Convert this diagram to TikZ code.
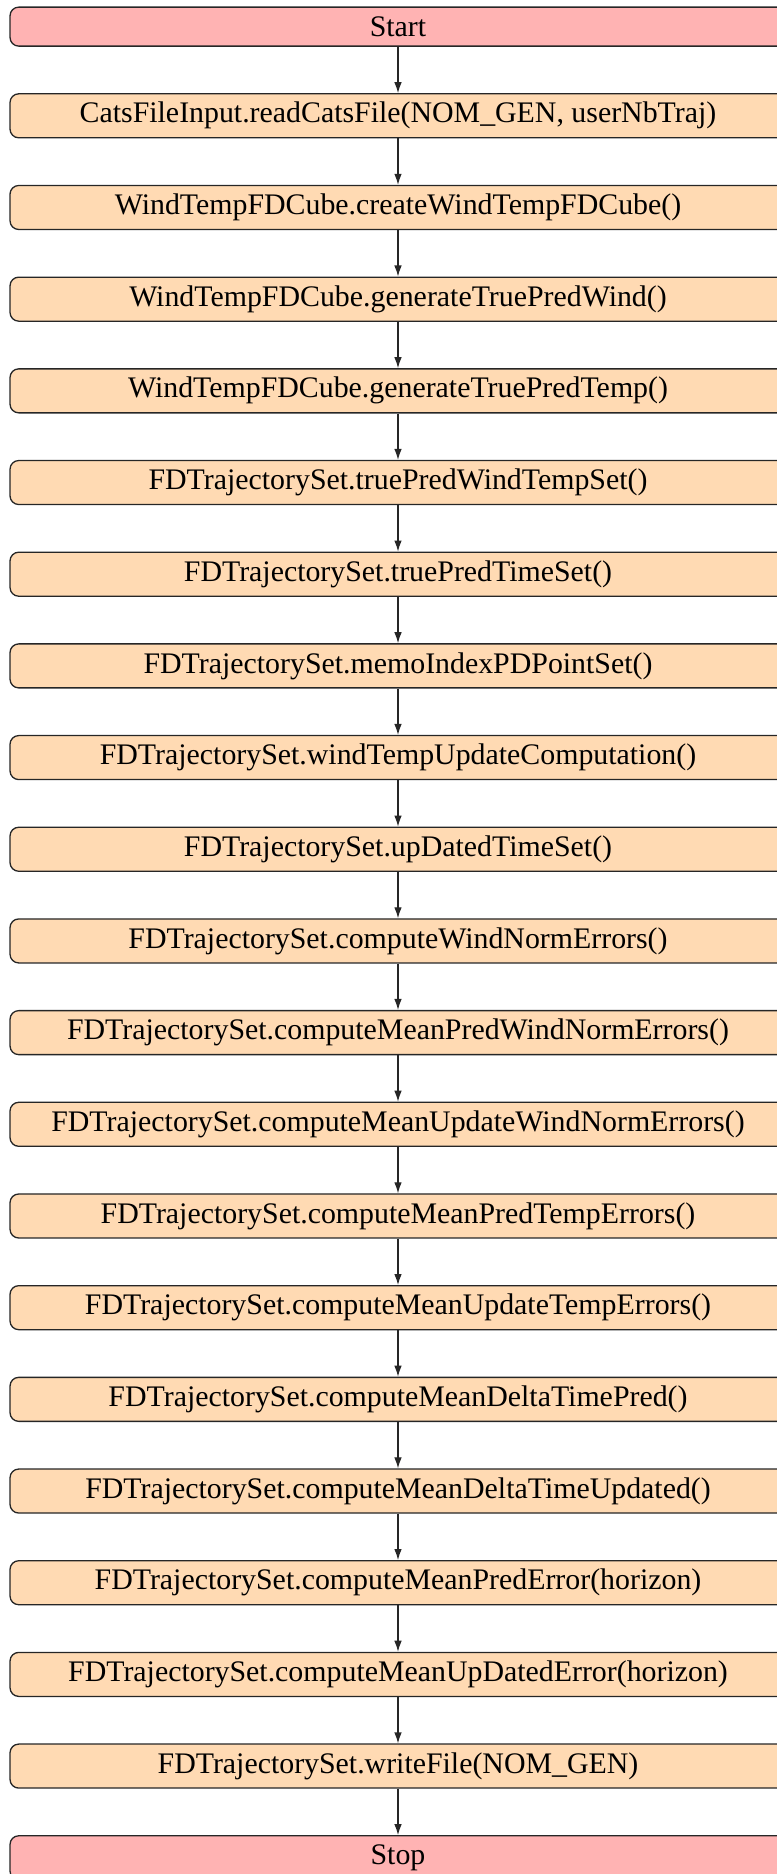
\documentclass[tikz,border=0pt]{standalone}
\usepackage{fontspec}
\setmainfont{Liberation Serif}
\usepackage{tikz}
\usetikzlibrary{arrows.meta, positioning}
\definecolor{termred}{RGB}{255,179,179}
\definecolor{procpeach}{RGB}{255,218,179}
\tikzset{
  termbox/.style={rectangle, draw=black!85, fill=termred,
    minimum width=267.7pt, minimum height=13.45pt, inner ysep=1pt,
    align=center, font=\fontsize{10.3}{12}\selectfont,
    rounded corners=3pt, line width=0.45pt},
  procbox/.style={rectangle, draw=black!85, fill=procpeach,
    minimum width=267.7pt, minimum height=15.18pt, inner ysep=1pt,
    align=center, font=\fontsize{10.3}{12}\selectfont,
    rounded corners=3pt, line width=0.45pt},
  arrow/.style={-{Latex[length=3.8pt, width=2.6pt]}, line width=0.4pt, color=black!85}
}

\begin{document}
\begin{tikzpicture}[node distance=16.0pt]
  \useasboundingbox (-137.31pt,2.24pt) rectangle (130.41pt,-644.29pt);
  \node[termbox, anchor=north] (start) at (0,0) {Start};
  \node[procbox, below=of start] (f1) {CatsFileInput.readCatsFile(NOM\_GEN, userNbTraj)};
  \node[procbox, below=of f1] (f2) {WindTempFDCube.createWindTempFDCube()};
  \node[procbox, below=of f2] (f3) {WindTempFDCube.generateTruePredWind()};
  \node[procbox, below=of f3] (f4) {WindTempFDCube.generateTruePredTemp()};
  \node[procbox, below=of f4] (f5) {FDTrajectorySet.truePredWindTempSet()};
  \node[procbox, below=of f5] (f6) {FDTrajectorySet.truePredTimeSet()};
  \node[procbox, below=of f6] (f7) {FDTrajectorySet.memoIndexPDPointSet()};
  \node[procbox, below=of f7] (f8) {FDTrajectorySet.windTempUpdateComputation()};
  \node[procbox, below=of f8] (f9) {FDTrajectorySet.upDatedTimeSet()};
  \node[procbox, below=of f9] (f10) {FDTrajectorySet.computeWindNormErrors()};
  \node[procbox, below=of f10] (f11) {FDTrajectorySet.computeMeanPredWindNormErrors()};
  \node[procbox, below=of f11] (f12) {FDTrajectorySet.computeMeanUpdateWindNormErrors()};
  \node[procbox, below=of f12] (f13) {FDTrajectorySet.computeMeanPredTempErrors()};
  \node[procbox, below=of f13] (f14) {FDTrajectorySet.computeMeanUpdateTempErrors()};
  \node[procbox, below=of f14] (f15) {FDTrajectorySet.computeMeanDeltaTimePred()};
  \node[procbox, below=of f15] (f16) {FDTrajectorySet.computeMeanDeltaTimeUpdated()};
  \node[procbox, below=of f16] (f17) {FDTrajectorySet.computeMeanPredError(horizon)};
  \node[procbox, below=of f17] (f18) {FDTrajectorySet.computeMeanUpDatedError(horizon)};
  \node[procbox, below=of f18] (f19) {FDTrajectorySet.writeFile(NOM\_GEN)};
  \node[termbox, minimum height=15.18pt, below=of f19] (stop) {Stop};

  \draw[arrow] (start) -- (f1);
  \draw[arrow] (f1) -- (f2);
  \draw[arrow] (f2) -- (f3);
  \draw[arrow] (f3) -- (f4);
  \draw[arrow] (f4) -- (f5);
  \draw[arrow] (f5) -- (f6);
  \draw[arrow] (f6) -- (f7);
  \draw[arrow] (f7) -- (f8);
  \draw[arrow] (f8) -- (f9);
  \draw[arrow] (f9) -- (f10);
  \draw[arrow] (f10) -- (f11);
  \draw[arrow] (f11) -- (f12);
  \draw[arrow] (f12) -- (f13);
  \draw[arrow] (f13) -- (f14);
  \draw[arrow] (f14) -- (f15);
  \draw[arrow] (f15) -- (f16);
  \draw[arrow] (f16) -- (f17);
  \draw[arrow] (f17) -- (f18);
  \draw[arrow] (f18) -- (f19);
  \draw[arrow] (f19) -- (stop);
\end{tikzpicture}
\end{document}
